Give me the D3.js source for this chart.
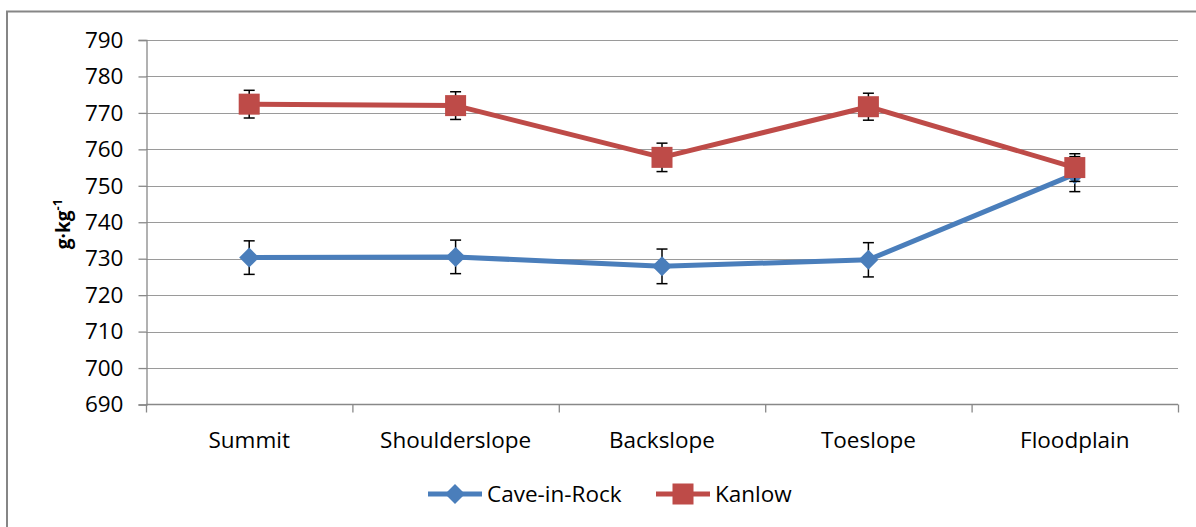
<!DOCTYPE html>
<html><head><meta charset="utf-8">
<script src="https://cdn.jsdelivr.net/npm/d3@7"></script>
<style>body{margin:0;background:#fff;}svg{display:block;font-family:"Open Sans",sans-serif;}</style>
</head><body>
<svg id="c" width="1196" height="527"></svg>
<script>
const categories = ["Summit","Shoulderslope","Backslope","Toeslope","Floodplain"];
const caveValues = [730.3, 730.5, 727.9, 729.7, 753.2];
const caveErrors = [4.6, 4.6, 4.75, 4.7, 4.8];
const kanlowValues = [772.4, 772.0, 757.8, 771.7, 755.0];
const kanlowErrors = [3.8, 3.8, 3.9, 3.7, 3.8];
const yTicks = [690,700,710,720,730,740,750,760,770,780,790];
const seriesNames = ["Cave-in-Rock","Kanlow"];

(function(){
const FONT = "'Open Sans',sans-serif";
const FS = 22.5;
const svg = d3.select("#c");
const pLeft = 146, pRight = 1178, pTop = 40, pBottom = 404.5;
const x = d3.scaleBand().domain(categories).range([pLeft, pRight]);
const y = d3.scaleLinear().domain([690, 790]).range([pBottom, pTop]);

// outer border
svg.append("rect").attr("x",7).attr("y",11.5).attr("width",1200).attr("height",530)
  .attr("fill","none").attr("stroke","#868686").attr("stroke-width",2);

// gridlines
svg.append("g").selectAll("line").data(yTicks.slice(1)).join("line")
  .attr("x1",pLeft).attr("x2",pRight).attr("y1",d=>Math.round(y(d))+0.5).attr("y2",d=>Math.round(y(d))+0.5)
  .attr("stroke","#9a9a9a").attr("stroke-width",1.2);

// y axis
const ya = svg.append("g").attr("transform",`translate(${pLeft+0.5},0)`)
  .call(d3.axisLeft(y).tickValues(yTicks).tickSize(8).tickPadding(15).tickFormat(d3.format("d")));
ya.select(".domain").attr("stroke","#888").attr("stroke-width",1.3);
ya.selectAll(".tick line").attr("stroke","#888").attr("stroke-width",1.3);
ya.selectAll(".tick text").attr("font-size",FS).attr("fill","#000").attr("font-family",FONT);

// x axis
const boundaries = categories.map(c=>x(c)).concat([pRight]);
svg.append("line").attr("x1",pLeft).attr("x2",pRight).attr("y1",pBottom).attr("y2",pBottom)
  .attr("stroke","#888").attr("stroke-width",1.5);
svg.append("g").selectAll("line").data(boundaries).join("line")
  .attr("x1",d=>d+0.5).attr("x2",d=>d+0.5).attr("y1",pBottom).attr("y2",pBottom+8)
  .attr("stroke","#888").attr("stroke-width",1.3);
svg.append("g").selectAll("text").data(categories).join("text")
  .attr("x",d=>x(d)+x.bandwidth()/2).attr("y",448).attr("text-anchor","middle")
  .attr("font-size",FS).attr("fill","#000").text(d=>d);

// y title
const yt = svg.append("text").attr("transform","translate(70,224) rotate(-90)")
  .attr("text-anchor","middle").attr("font-size",19).attr("font-weight","bold").attr("fill","#000");
yt.append("tspan").text("g·kg");
yt.append("tspan").attr("dy",-8).attr("font-size",13).text("-1");

const colors = ["#4a7ebb","#be4b48"];
const series = [
  {name:seriesNames[0], values:caveValues, errors:caveErrors, color:colors[0], shape:"diamond"},
  {name:seriesNames[1], values:kanlowValues, errors:kanlowErrors, color:colors[1], shape:"square"}
];
const cx = c => x(c)+x.bandwidth()/2;
const line = d3.line().x(d=>cx(d.c)).y(d=>y(d.v));

function marker(g, shape, color){
  if(shape==="diamond"){
    g.append("path").attr("d","M0,-10L10,0L0,10L-10,0Z").attr("fill",color);
  } else {
    g.append("rect").attr("x",-10.5).attr("y",-10.5).attr("width",21).attr("height",21).attr("fill",color);
  }
}

series.forEach(s=>{
  const pts = categories.map((c,i)=>({c, v:s.values[i], e:s.errors[i]}));
  svg.append("path").datum(pts).attr("d",line).attr("fill","none")
    .attr("stroke",s.color).attr("stroke-width",5).attr("stroke-linejoin","round");
  const eb = svg.append("g");
  pts.forEach(p=>{
    const X = cx(p.c);
    eb.append("line").attr("x1",X).attr("x2",X).attr("y1",y(p.v+p.e)).attr("y2",y(p.v-p.e)).attr("stroke","#000").attr("stroke-width",1.5);
    [p.v+p.e, p.v-p.e].forEach(v=>eb.append("line").attr("x1",X-5.5).attr("x2",X+5.5).attr("y1",y(v)).attr("y2",y(v)).attr("stroke","#000").attr("stroke-width",1.5));
  });
  pts.forEach(p=>{
    const g = svg.append("g").attr("transform",`translate(${cx(p.c)},${y(p.v)})`);
    marker(g, s.shape, s.color);
  });
});

// legend
const legendX = [428, 656];
series.forEach((s,i)=>{
  const lx = legendX[i];
  svg.append("line").attr("x1",lx).attr("x2",lx+54).attr("y1",494).attr("y2",494)
    .attr("stroke",s.color).attr("stroke-width",5);
  const g = svg.append("g").attr("transform",`translate(${lx+27},494)`);
  marker(g, s.shape, s.color);
  svg.append("text").attr("x",lx+59).attr("y",502).attr("font-size",FS).attr("fill","#000").text(s.name);
});
})();
</script>
</body></html>
